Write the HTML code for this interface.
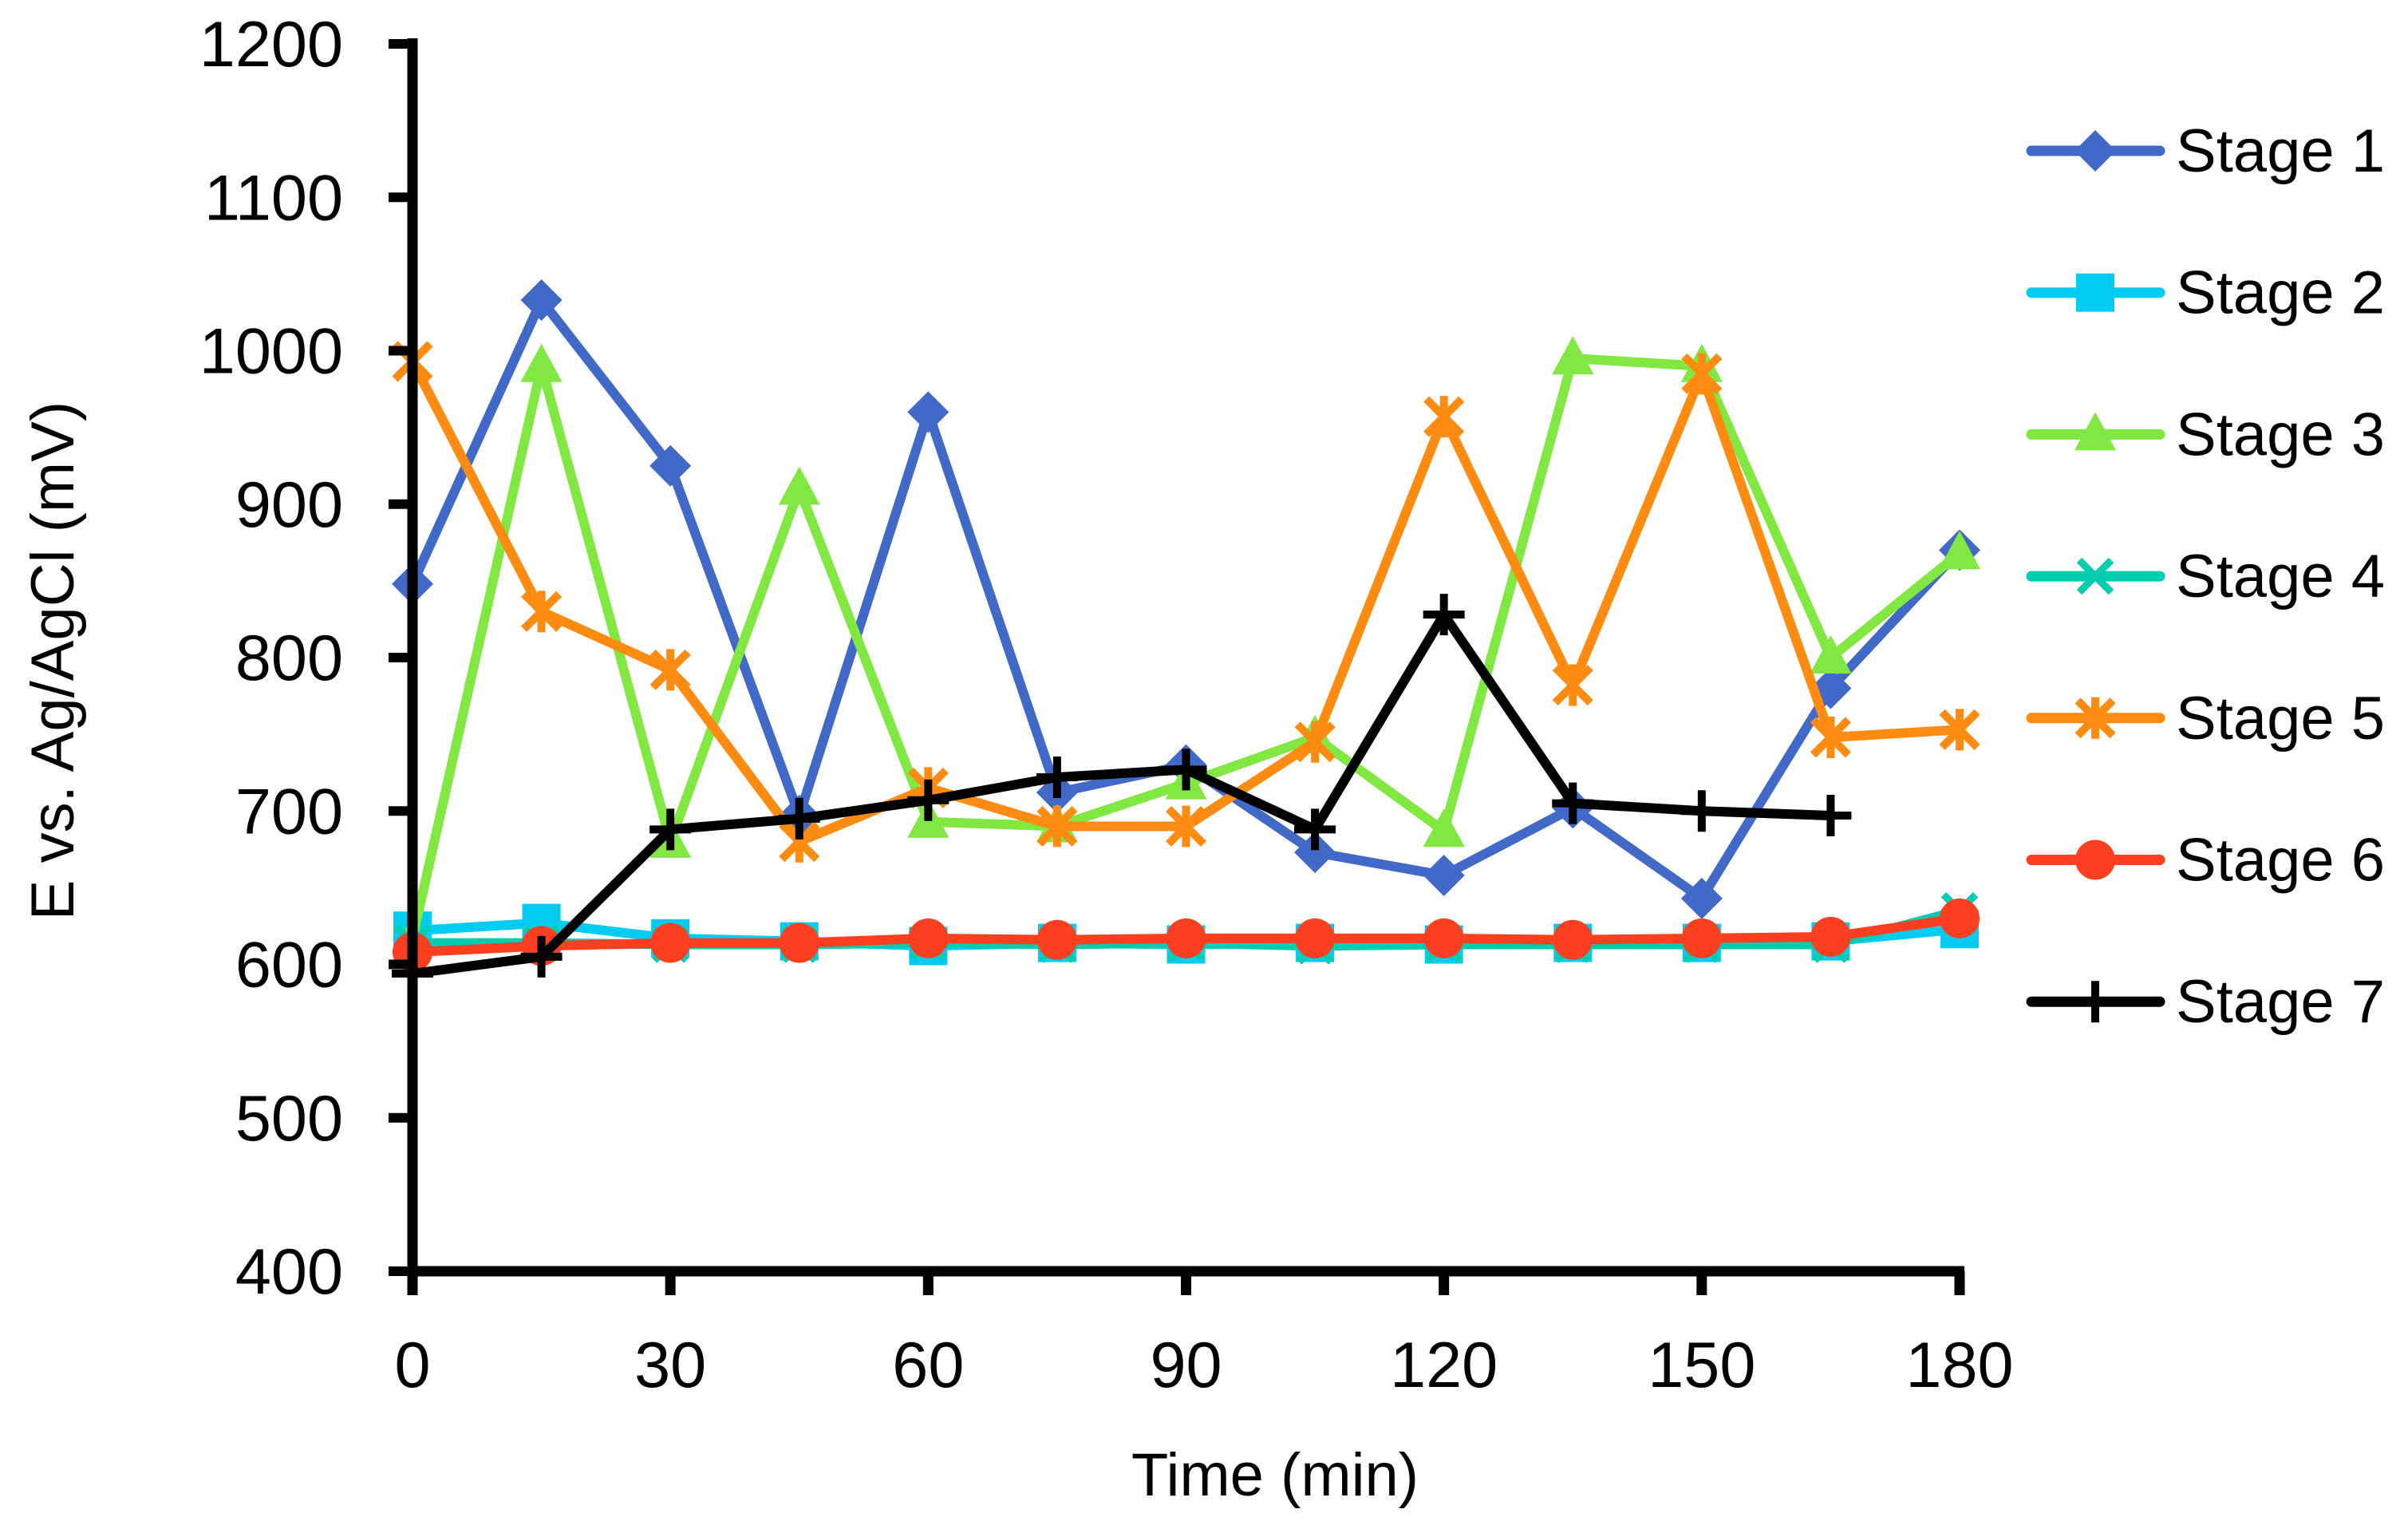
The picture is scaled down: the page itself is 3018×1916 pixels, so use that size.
<!DOCTYPE html>
<html><head><meta charset="utf-8"><style>
html,body{margin:0;padding:0;background:#fff;}
svg{display:block;font-family:"Liberation Sans",sans-serif;}
</style></head><body>
<svg id="chart" width="3018" height="1916" viewBox="0 0 3018 1916" xmlns="http://www.w3.org/2000/svg">
<g id="grid"></g><g id="series"></g><g id="axes"></g><g id="legend"></g>
<text x="0" y="0" transform="translate(92,828) rotate(-90)" text-anchor="middle" font-size="76">E vs. Ag/AgCl (mV)</text>
<text x="1598" y="1874" text-anchor="middle" font-size="76">Time (min)</text>
</svg>
<script>
const times = [0,15,30,45,60,75,90,105,120,135,150,165,180];
const xTicks = [0,30,60,90,120,150,180];
const yTicks = [400,500,600,700,800,900,1000,1100,1200];
const stage1 = [848,1033,925,697,960,712,730,673,658,702,643,780,870];
const stage2 = [622,627,617,615,612,614,613,614,613,614,614,615,623];
const stage3 = [617,990,680,910,693,690,718,748,687,995,990,800,868];
const stage4 = [614,614,613,613,614,613,614,612,613,613,613,613,635];
const stage5 = [993,830,792,680,715,690,690,745,957,782,985,748,753];
const stage6 = [608,612,614,614,617,616,617,617,617,616,617,618,630];
const stage7 = [594,605,688,695,707,722,727,688,828,705,700,697];
const seriesNames = ["Stage 1","Stage 2","Stage 3","Stage 4","Stage 5","Stage 6","Stage 7"];

const NS="http://www.w3.org/2000/svg";
const X0=517,X1=2456,Y0=1593,Y1=55;
function xs(t){return X0+(t-0)/(180-0)*(X1-X0);}
function ys(v){return Y0-(v-400)/(1200-400)*(Y0-Y1);}
function mk(tag,attrs,parent){const e=document.createElementNS(NS,tag);for(const k in attrs)e.setAttribute(k,attrs[k]);parent.appendChild(e);return e;}

const styles=[
 {c:"#4169c8",m:"diamond"},{c:"#00ccf2",m:"square"},{c:"#80e840",m:"triangle"},
 {c:"#00ccb0",m:"x"},{c:"#ff8c10",m:"star"},{c:"#ff4020",m:"circle"},{c:"#000000",m:"plus"}];
const data=[stage1,stage2,stage3,stage4,stage5,stage6,stage7];

function marker(g,type,x,y,c){
 let e;
 if(type==="diamond"){e=mk("polygon",{points:`${x},${y-26} ${x+26},${y} ${x},${y+26} ${x-26},${y}`,fill:c},g);}
 else if(type==="square"){e=mk("rect",{x:x-24,y:y-24,width:48,height:48,fill:c},g);}
 else if(type==="triangle"){e=mk("polygon",{points:`${x},${y-28} ${x+26},${y+20} ${x-26},${y+20}`,fill:c},g);}
 else if(type==="x"){e=mk("path",{d:`M${x-20},${y-20}L${x+20},${y+20}M${x-20},${y+20}L${x+20},${y-20}`,stroke:c,"stroke-width":9,fill:"none"},g);}
 else if(type==="star"){e=mk("path",{d:`M${x-22},${y-22}L${x+22},${y+22}M${x-22},${y+22}L${x+22},${y-22}M${x},${y-26}L${x},${y+26}`,stroke:c,"stroke-width":10,fill:"none"},g);}
 else if(type==="circle"){e=mk("circle",{cx:x,cy:y,r:25,fill:c},g);}
 else {e=mk("path",{d:`M${x-26},${y}L${x+26},${y}M${x},${y-26}L${x},${y+26}`,stroke:c,"stroke-width":10,fill:"none"},g);}
 return e;
}

const sg=document.getElementById("series");
data.forEach((arr,i)=>{
 const g=mk("g",{},sg);
 
 
 const pts=arr.map((v,j)=>xs(times[j])+","+ys(v)).join(" ");
 const pl=mk("polyline",{points:pts,fill:"none",stroke:styles[i].c,"stroke-width":12,"stroke-linejoin":"round","stroke-linecap":"round"},g);
 
 
 arr.forEach((v,j)=>{
  const m=marker(g,styles[i].m,xs(times[j]),ys(v),styles[i].c);
  
  
 });
});

const ax=document.getElementById("axes");
const ya=mk("line",{x1:X0,y1:Y1-7,x2:X0,y2:Y0+6,stroke:"#000","stroke-width":13},ax);


const xa=mk("line",{x1:X0-6,y1:Y0,x2:X1+6,y2:Y0,stroke:"#000","stroke-width":13},ax);


yTicks.forEach(v=>{
 const y=ys(v);
 const t=mk("line",{x1:X0-30,y1:y,x2:X0,y2:y,stroke:"#000","stroke-width":12},ax);
 
 
 const l=mk("text",{x:430,y:y+28,"text-anchor":"end","font-size":81},ax);
 l.textContent=v;
 
 
});
xTicks.forEach(v=>{
 const x=xs(v);
 const t=mk("line",{x1:x,y1:Y0,x2:x,y2:Y0+30,stroke:"#000","stroke-width":13},ax);
 
 
 const l=mk("text",{x:x,y:1738,"text-anchor":"middle","font-size":81},ax);
 l.textContent=v;
 
 
});

const lg=document.getElementById("legend");
seriesNames.forEach((n,i)=>{
 const y=189+i*177.7;
 const g=mk("g",{},lg);
 
 
 mk("line",{x1:2546,y1:y,x2:2707,y2:y,stroke:styles[i].c,"stroke-width":13,"stroke-linecap":"round"},g);
 marker(g,styles[i].m,2626,y,styles[i].c);
 const t=mk("text",{x:2727,y:y+26,"font-size":76},g);
 t.textContent=n;
});
</script>
</body></html>
